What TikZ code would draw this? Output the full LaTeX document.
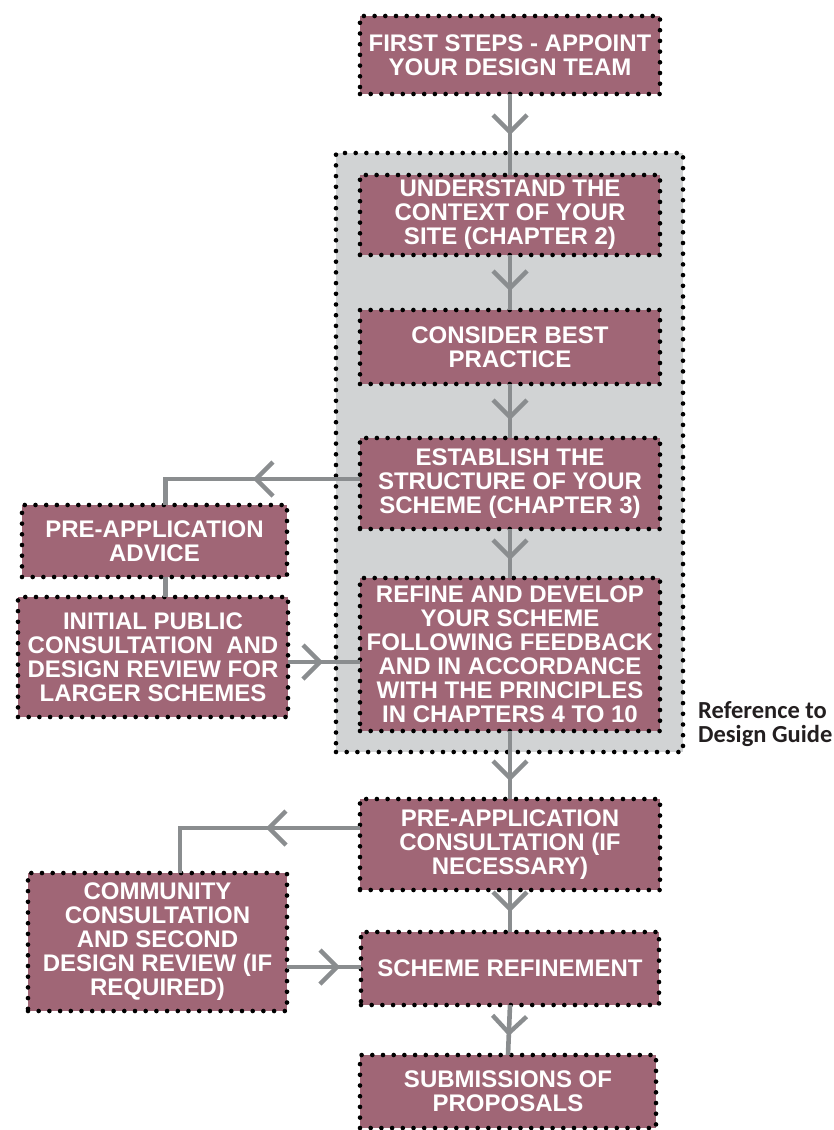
\documentclass[tikz,border=0pt]{standalone}
\usepackage{fontspec}
\newfontfamily\boxfont{Liberation Sans}
\newfontfamily\reffont{Carlito}
\usetikzlibrary{decorations.markings}
\definecolor{boxfill}{HTML}{A06676}
\definecolor{bggray}{HTML}{D1D3D4}
\definecolor{linegray}{HTML}{8A8D8F}
\definecolor{reftext}{HTML}{231F20}
\begin{document}
\begin{tikzpicture}[x=1pt,y=-1pt,
  dotborder/.style={draw=black, line width=4.6pt, line cap=round, dash pattern=on 0pt off 10.7pt},
  stepbox/.style={dotborder, fill=boxfill, text=white, outer sep=0pt, inner sep=0pt,
    font=\boxfont\bfseries\fontsize{24}{24}\selectfont, align=center},
  conn/.style={draw=linegray, line width=4.6pt},
  chev/.style={postaction={decorate, decoration={markings, mark=at position #1 with
    {\draw[linegray, line width=4.4pt] (-17pt,17pt) -- (0pt,0pt) -- (-17pt,-17pt);}}}}
]
\useasboundingbox (0,0) rectangle (834,1130);
% grey reference panel
\node[dotborder, fill=bggray, minimum width=347pt, minimum height=599pt, outer sep=0pt, inner sep=0pt] (panel) at (509.5,452.5) {};
% main column
\node[stepbox, minimum width=300pt, minimum height=78pt] (b1) at (510,55) {FIRST STEPS - APPOINT\\YOUR DESIGN TEAM};
\node[stepbox, minimum width=300pt, minimum height=80pt] (b2) at (510,215) {UNDERSTAND THE\\CONTEXT OF YOUR\\SITE (CHAPTER 2)};
\node[stepbox, minimum width=300pt, minimum height=74pt] (b3) at (510,347) {CONSIDER BEST\\PRACTICE};
\node[stepbox, minimum width=300pt, minimum height=91pt] (b4) at (510,483.5) {ESTABLISH THE\\STRUCTURE OF YOUR\\SCHEME (CHAPTER 3)};
\node[stepbox, minimum width=300pt, minimum height=153pt] (b5) at (510,654.5) {REFINE AND DEVELOP\\YOUR SCHEME\\FOLLOWING FEEDBACK\\AND IN ACCORDANCE\\WITH THE PRINCIPLES\\IN CHAPTERS 4 TO 10};
\node[stepbox, minimum width=300pt, minimum height=91pt] (b8) at (510,844.5) {PRE-APPLICATION\\CONSULTATION (IF\\NECESSARY)};
\node[stepbox, minimum width=298pt, minimum height=73pt] (b10) at (510,968.5) {SCHEME REFINEMENT};
\node[stepbox, minimum width=296pt, minimum height=73pt] (b11) at (508,1091.5) {SUBMISSIONS OF\\PROPOSALS};
% side column
\node[stepbox, minimum width=265pt, minimum height=72pt] (b6) at (154.5,541) {PRE-APPLICATION\\ADVICE};
\node[stepbox, minimum width=270pt, minimum height=120pt] (b7) at (153,657) {INITIAL PUBLIC\\CONSULTATION\ \ AND\\DESIGN REVIEW FOR\\LARGER SCHEMES};
\node[stepbox, minimum width=259pt, minimum height=138pt] (b9) at (157.5,942) {COMMUNITY\\CONSULTATION\\AND SECOND\\DESIGN REVIEW (IF\\REQUIRED)};
% reference label
\node[anchor=north west, inner sep=0pt, align=left, text=reftext,
  font=\reffont\bfseries\fontsize{24.5}{24}\selectfont] (ref) at (698,701) {Reference to\\Design Guide};
% connectors
\draw[conn, chev=38pt] (b1.south) -- (b2.north);
\draw[conn, chev=33pt] (b2.south) -- (b3.north);
\draw[conn, chev=33pt] (b3.south) -- (b4.north);
\draw[conn, chev=28pt] (b4.south) -- (b5.north);
\draw[conn, chev=47pt] (b5.south) -- (b8.north);
\draw[conn, chev=19pt] (b8.south) -- (b10.north);
\draw[conn, chev=28pt] (b10.south) -- (b11.north);
\draw[conn, chev=104pt] ([yshift=4.5pt]b4.west) -| ([xshift=11pt]b6.north);
\draw[conn] ([xshift=11pt]b6.south) -- ([xshift=12.5pt]b7.north);
\draw[conn, chev=32pt] (b7.east |- 0,662) -- (b5.west |- 0,662);
\draw[conn, chev=91pt] ([yshift=16.5pt]b8.west) -| ([xshift=22.5pt]b9.north);
\draw[conn, chev=50pt] (b9.east |- 0,967) -- (b10.west |- 0,967);
\end{tikzpicture}
\end{document}
